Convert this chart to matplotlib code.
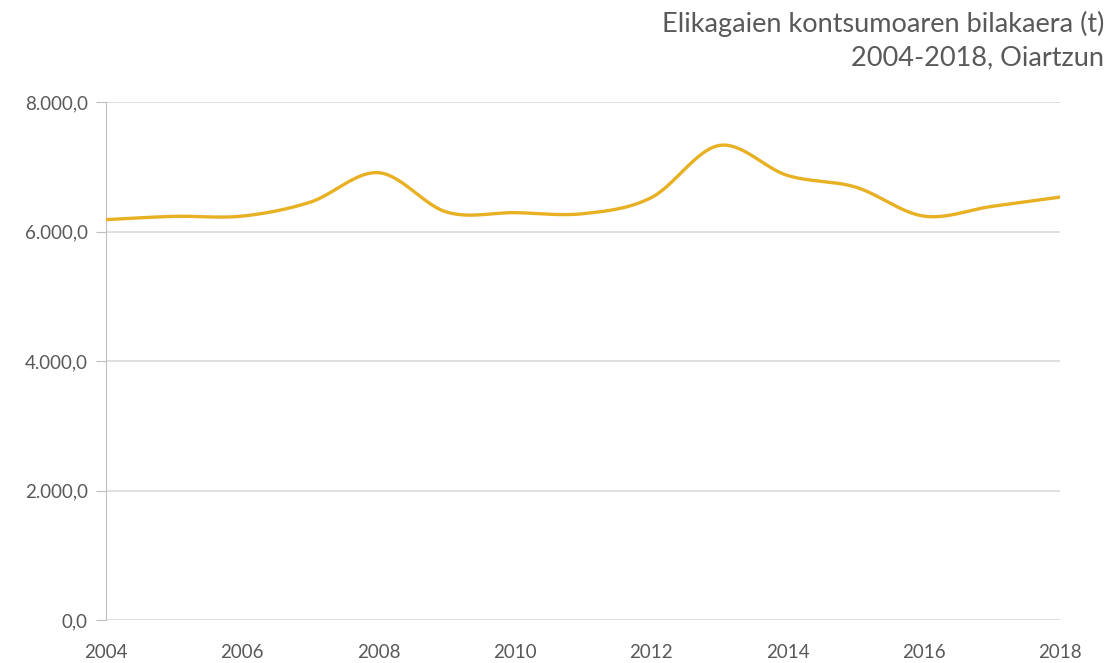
import numpy as np
import matplotlib
matplotlib.use("Agg")
import matplotlib.pyplot as plt
from matplotlib.ticker import FuncFormatter

years = [2004, 2005, 2006, 2007, 2008, 2009, 2010, 2011,
         2012, 2013, 2014, 2015, 2016, 2017, 2018]
consumption = [6183, 6234, 6238, 6454, 6908, 6300, 6291, 6275,
               6522, 7329, 6866, 6686, 6238, 6388, 6531]

title = "Elikagaien kontsumoaren bilakaera (t)\n2004-2018, Oiartzun"
text_col = "#595959"
line_col = "#E8B023"

plt.rcParams["font.family"] = ["Lato", "DejaVu Sans"]


def smooth(xs, ys, n=30):
    # excel-like smoothed line: cubic bezier through the points
    xs = np.asarray(xs, float)
    ys = np.asarray(ys, float)
    px = np.concatenate([[xs[0]], xs, [xs[-1]]])
    py = np.concatenate([[ys[0]], ys, [ys[-1]]])
    out_x, out_y = [], []
    t = np.linspace(0, 1, n)
    for i in range(1, len(px) - 2):
        p0 = np.array([px[i], py[i]])
        p3 = np.array([px[i + 1], py[i + 1]])
        c1 = p0 + (p3 - np.array([px[i - 1], py[i - 1]])) / 6
        c2 = p3 - (np.array([px[i + 2], py[i + 2]]) - p0) / 6
        b = ((1 - t) ** 3)[:, None] * p0 + (3 * (1 - t) ** 2 * t)[:, None] * c1 \
            + (3 * (1 - t) * t ** 2)[:, None] * c2 + (t ** 3)[:, None] * p3
        out_x.extend(b[:, 0])
        out_y.extend(b[:, 1])
    return out_x, out_y


fig = plt.figure(figsize=(11.11, 6.63), dpi=100)
ax = fig.add_axes([106 / 1111, 43 / 663, 954 / 1111, 518 / 663])

sx, sy = smooth(years, consumption)
ax.plot(sx, sy, color=line_col, lw=2.4, solid_capstyle="round", zorder=3)

ax.set_xlim(2004, 2018)
ax.set_ylim(0, 8000)
ax.set_yticks([0, 2000, 4000, 6000, 8000])
ax.set_xticks(range(2004, 2019, 2))
ax.yaxis.set_major_formatter(FuncFormatter(
    lambda v, p: f"{v:,.1f}".replace(",", "X").replace(".", ",").replace("X", ".")))
ax.grid(axis="y", color="#D9D9D9", lw=1.2)
ax.set_axisbelow(True)

for s in ["top", "right", "bottom"]:
    ax.spines[s].set_visible(False)
ax.spines["left"].set_color("#BFBFBF")
ax.tick_params(axis="y", length=7, color="#BFBFBF", labelcolor=text_col,
               labelsize=13.5, pad=6)
ax.tick_params(axis="x", length=0, labelcolor=text_col, labelsize=13.5, pad=17)

fig.text(1104 / 1111, 1 - 11 / 663, title, ha="right", va="top",
         color=text_col, fontsize=19.5, linespacing=1.4)

fig.savefig("out.png", dpi=100)
